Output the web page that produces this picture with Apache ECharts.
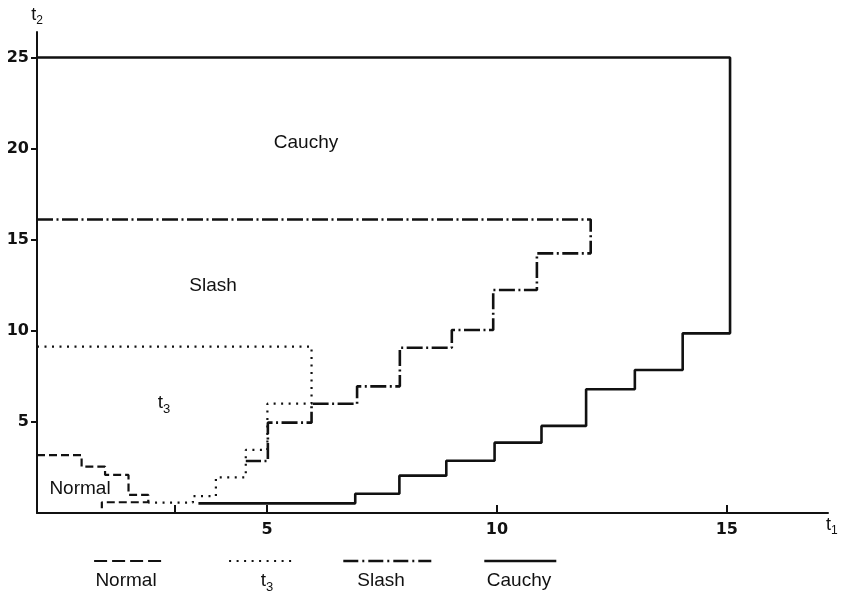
<!DOCTYPE html>
<html>
<head>
<meta charset="utf-8">
<script src="https://cdn.jsdelivr.net/npm/echarts@6/dist/echarts.min.js"></script>
<style>
  html, body { margin: 0; padding: 0; background: #fff; }
  #chart { width: 846px; height: 596px; }
</style>
</head>
<body>
<div id="chart"></div>
<script>
// Boundary vertices [t1, t2]
const seriesNames = ['Normal', 't₃', 'Slash', 'Cauchy'];

const normalBoundary = [
  [0, 3.18], [0.97, 3.18], [0.97, 2.54], [1.48, 2.54], [1.48, 2.09],
  [1.99, 2.09], [1.99, 0.99], [2.42, 0.99], [2.42, 0.59], [1.41, 0.59], [1.41, 0.26]
];

const t3Boundary = [
  [0, 9.13], [5.97, 9.13], [5.97, 6.0], [5.01, 6.0], [5.01, 3.46],
  [4.54, 3.46], [4.54, 1.96], [3.89, 1.96], [3.89, 0.93], [3.39, 0.93],
  [3.39, 0.57], [2.42, 0.57]
];

const slashBoundary = [
  [0, 16.11], [12.04, 16.11], [12.04, 14.25], [10.87, 14.25], [10.87, 12.24],
  [9.92, 12.24], [9.92, 10.04], [9.02, 10.04], [9.02, 9.07], [7.89, 9.07],
  [7.89, 6.95], [6.96, 6.95], [6.96, 6.0], [5.97, 6.0], [5.97, 4.96],
  [5.02, 4.96], [5.02, 2.85], [4.54, 2.85]
];

const cauchyBoundary = [
  [0, 25], [15.07, 25], [15.07, 9.86], [14.04, 9.86], [14.04, 7.85],
  [13.0, 7.85], [13.0, 6.79], [11.94, 6.79], [11.94, 4.78], [10.97, 4.78],
  [10.97, 3.86], [9.95, 3.86], [9.95, 2.87], [8.9, 2.87], [8.9, 2.05],
  [7.88, 2.05], [7.88, 1.06], [6.92, 1.06], [6.92, 0.53], [3.51, 0.53]
];

const xTickValues = [3, 5, 10, 15];
const xLabelValues = [5, 10, 15];
const yTickValues = [5, 10, 15, 20, 25];

// ---- styles / layout ----
const INK = '#111';
const FONT = '"Liberation Sans", Arial, sans-serif';
const dashStyles = {
  'Normal': { type: [8, 4], width: 2.2 },
  't₃': { type: [2, 5.5], width: 2.2 },
  'Slash': { type: [16, 3.5, 2, 3.5], width: 2.6 },
  'Cauchy': { type: 'solid', width: 2.6 }
};
const legendDash = {
  'Normal': [13, 5],
  't₃': [2, 5.5],
  'Slash': [15, 4, 2, 4],
  'Cauchy': 'solid'
};
const legendLeft = [93, 228, 342, 483];
const legendWidth = [67, 62, 88, 72];
const legendTextX = [126, 267, 381, 519];
const boundaries = [normalBoundary, t3Boundary, slashBoundary, cauchyBoundary];

// subscript rich styles (t with a lowered small digit)
function subRich(size) {
  return {
    t: { fontSize: size, fontFamily: FONT, color: INK, lineHeight: size + 6, verticalAlign: 'middle' },
    s: { fontSize: Math.round(size * 0.68), fontFamily: FONT, color: INK, lineHeight: size + 6, verticalAlign: 'bottom' }
  };
}
function richText(label) {
  return label === 't₃' ? '{t|t}{s|3}' : label;
}

const chart = echarts.init(document.getElementById('chart'), null, { renderer: 'canvas' });

function textEl(label, x, y) {
  return {
    type: 'text', x: x, y: y,
    style: {
      text: richText(label), fill: INK, fontSize: 19, fontFamily: FONT,
      align: 'center', verticalAlign: 'middle', rich: subRich(19)
    }
  };
}

const option = {
  animation: false,
  backgroundColor: '#fff',
  grid: { left: 37, right: 18, top: 32, bottom: 83, containLabel: false, outerBoundsMode: 'none' },
  xAxis: {
    type: 'value', min: 0, max: 17.2,
    name: '{t|t}{s|1}', nameLocation: 'end', nameGap: -2,
    nameTextStyle: { color: INK, fontSize: 18, fontFamily: FONT, verticalAlign: 'top', align: 'left', rich: subRich(18) },
    axisLine: { show: true, onZero: false, lineStyle: { color: INK, width: 2 } },
    axisTick: { show: true, inside: true, length: 8, customValues: xTickValues, lineStyle: { color: INK, width: 2 } },
    axisLabel: { customValues: xLabelValues, margin: 9, color: INK, fontFamily: 'DejaVu Sans', fontWeight: 'bold', fontSize: 16 },
    splitLine: { show: false }
  },
  yAxis: {
    type: 'value', min: 0, max: 26.4,
    name: '{t|t}{s|2}', nameLocation: 'end', nameGap: 5,
    nameTextStyle: { color: INK, fontSize: 18, fontFamily: FONT, align: 'center', rich: subRich(18) },
    axisLine: { show: true, onZero: false, lineStyle: { color: INK, width: 2 } },
    axisTick: { show: true, inside: false, length: 6, customValues: yTickValues, lineStyle: { color: INK, width: 2 } },
    axisLabel: { customValues: yTickValues, margin: 8, color: INK, fontFamily: 'DejaVu Sans', fontWeight: 'bold', fontSize: 16 },
    splitLine: { show: false }
  },
  legend: seriesNames.map((n, i) => ({
    data: [n],
    left: legendLeft[i], top: 555, padding: 0,
    itemWidth: legendWidth[i], itemHeight: 12, itemGap: 0,
    selectedMode: false,
    formatter: () => '',
    itemStyle: { opacity: 0 },
    lineStyle: { color: INK, width: dashStyles[n].width, type: legendDash[n] }
  })),
  series: seriesNames.map((n, i) => ({
    name: n,
    type: 'line',
    data: boundaries[i],
    symbol: 'none',
    showSymbol: false,
    clip: false,
    lineStyle: { color: INK, width: dashStyles[n].width, type: dashStyles[n].type, cap: 'butt' },
    itemStyle: { color: INK },
    emphasis: { disabled: true },
    z: 2 + i
  })),
  graphic: [
    textEl('Cauchy', 306, 143),
    textEl('Slash', 213, 286),
    textEl('t₃', 164, 403),
    textEl('Normal', 80, 489)
  ].concat(seriesNames.map((n, i) => textEl(n, legendTextX[i], 581)))
};

chart.setOption(option);
</script>
</body>
</html>
